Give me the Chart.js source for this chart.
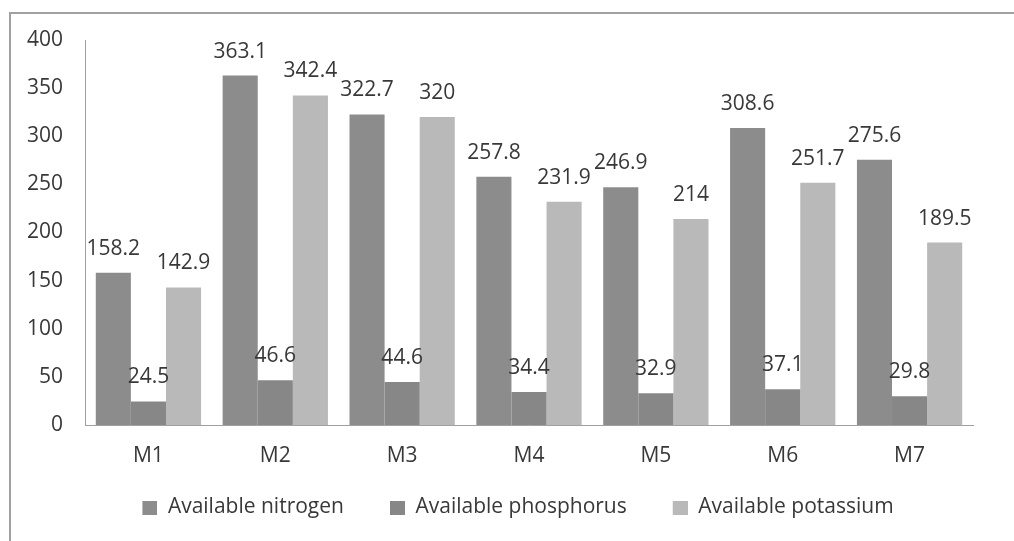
<!DOCTYPE html>
<html>
<head>
<meta charset="utf-8">
<script src="https://cdn.jsdelivr.net/npm/chart.js@4"></script>
<style>
  html, body { margin: 0; padding: 0; background: #fff; }
  #wrap { width: 1014px; height: 541px; position: relative; }
</style>
</head>
<body>
<div id="wrap"><canvas id="chart" width="1014" height="541"></canvas></div>
<script>
const categories = ['M1', 'M2', 'M3', 'M4', 'M5', 'M6', 'M7'];
const nitrogen = [158.2, 363.1, 322.7, 257.8, 246.9, 308.6, 275.6];
const phosphorus = [24.5, 46.6, 44.6, 34.4, 32.9, 37.1, 29.8];
const potassium = [142.9, 342.4, 320, 231.9, 214, 251.7, 189.5];
const seriesNames = ['Available nitrogen', 'Available phosphorus', 'Available potassium'];
const seriesColors = ['#8c8c8c', '#878787', '#b9b9b9'];

const FONT = '"Open Sans", sans-serif';
const TEXT = '#383838';

// legend swatch with some blank room in front, so items sit further apart
const makeSwatch = (color) => {
  const c = document.createElement('canvas');
  c.width = 35;
  c.height = 14;
  const g = c.getContext('2d');
  g.fillStyle = color;
  g.fillRect(20, 0, 15, 14);
  return c;
};
const swatches = seriesColors.map(makeSwatch);

// outer frame like the pasted office chart
const framePlugin = {
  id: 'frame',
  beforeDraw: (chart) => {
    const ctx = chart.ctx;
    ctx.save();
    ctx.strokeStyle = '#a0a0a0';
    ctx.lineWidth = 2;
    ctx.beginPath();
    ctx.moveTo(10, 541);
    ctx.lineTo(10, 13);
    ctx.lineTo(1014, 13);
    ctx.stroke();
    ctx.restore();
  },
};

const valueLabels = {
  id: 'valueLabels',
  afterDatasetsDraw: (chart) => {
    const ctx = chart.ctx;
    ctx.save();
    ctx.font = '21px ' + FONT;
    ctx.fillStyle = TEXT;
    ctx.textAlign = 'center';
    ctx.textBaseline = 'middle';
    chart.data.datasets.forEach((ds, i) => {
      chart.getDatasetMeta(i).data.forEach((bar, j) => {
        ctx.fillText(String(ds.data[j]), bar.x, bar.y - 24);
      });
    });
    ctx.restore();
  },
};

const defaultLabels = Chart.defaults.plugins.legend.labels.generateLabels;

new Chart(document.getElementById('chart'), {
  type: 'bar',
  data: {
    labels: categories,
    datasets: [nitrogen, phosphorus, potassium].map((data, i) => ({
      label: seriesNames[i],
      data: data,
      backgroundColor: seriesColors[i],
      barPercentage: 1,
      categoryPercentage: 0.83,
    })),
  },
  options: {
    responsive: false,
    animation: false,
    layout: { padding: { left: 2, right: 0, top: 40, bottom: 13 } },
    plugins: {
      tooltip: { enabled: false },
      legend: {
        position: 'bottom',
        labels: {
          color: TEXT,
          font: { family: FONT, size: 21 },
          usePointStyle: true,
          pointStyleWidth: 35,
          boxHeight: 14,
          padding: 26,
          generateLabels: (chart) =>
            defaultLabels(chart).map((item, i) => ({ ...item, pointStyle: swatches[i] })),
        },
      },
    },
    scales: {
      x: {
        grid: { display: false, drawTicks: false },
        border: { color: '#a0a0a0', width: 1 },
        ticks: { color: TEXT, font: { family: FONT, size: 21 }, padding: 18 },
        afterFit: (scale) => { scale.height = 46; },
      },
      y: {
        min: 0,
        max: 400,
        grid: { display: false, drawTicks: false },
        border: { color: '#a0a0a0', width: 1 },
        ticks: { stepSize: 50, color: TEXT, font: { family: FONT, size: 21 }, padding: 22 },
        afterFit: (scale) => { scale.width = 83; },
      },
      // empty spacer on the right so the legend centres like the original
      spacer: {
        position: 'right',
        grid: { display: false, drawTicks: false },
        border: { display: false },
        ticks: { display: false },
        afterFit: (scale) => { scale.width = 41; },
      },
    },
  },
  plugins: [framePlugin, valueLabels],
});
</script>
</body>
</html>
